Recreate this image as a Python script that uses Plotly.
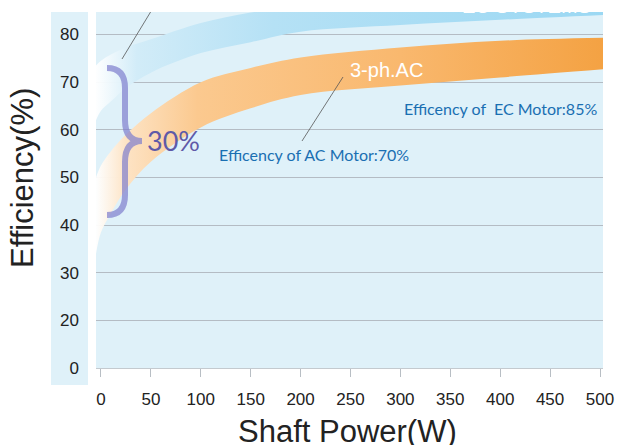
import plotly.graph_objects as go

# ---------------- data ----------------
power = [-5, 0, 10, 25, 50, 100, 150, 200, 300, 400, 503]
ec_low = [62.0, 64.0, 66.0, 68.8, 72.0, 76.1, 78.4, 80.6, 82.0, 83.1, 84.1]
ec_high = [73.5, 74.5, 75.8, 77.3, 79.0, 82.4, 84.6, 86.0, 88.0, 89.0, 90.0]
ac_low = [34.0, 38.5, 42.5, 47.5, 53.3, 60.5, 64.5, 67.3, 69.3, 71.0, 72.7]
ac_high = [50.0, 52.5, 55.5, 59.0, 63.5, 70.0, 73.0, 75.2, 77.3, 78.7, 79.3]

x_ticks = [0, 50, 100, 150, 200, 250, 300, 350, 400, 450, 500]
y_tickvals = [10, 20, 30, 40, 50, 60, 70, 80]
y_ticktext = ["0", "20", "30", "40", "50", "60", "70", "80"]

# ---------------- layout geometry ----------------
W, H = 617, 445
ML, MR, MT, MB = 96, 14, 12, 77
X0, X1 = -5, 503
Y0, Y1 = 10, 84.73
pw = W - ML - MR
ph = H - MT - MB

def px2x(px):
    return X0 + (px - ML) / pw * (X1 - X0)

def py2y(py):
    return Y1 - (py - MT) / ph * (Y1 - Y0)

def px2paper(px):
    return (px - ML) / pw

def py2paper(py):
    return (H - MB - py) / ph

fig = go.Figure()

# EC band
fig.add_trace(go.Scatter(x=power, y=ec_high, mode="lines", line=dict(width=0, shape="spline"),
                         hoverinfo="skip", showlegend=False))
fig.add_trace(go.Scatter(x=power, y=ec_low, mode="lines", line=dict(width=0, shape="spline"),
                         fill="tonexty",
                         fillgradient=dict(type="horizontal",
                                           colorscale=[[0, "rgba(255,255,255,0.95)"],
                                                       [0.08, "#d2ecf8"],
                                                       [0.35, "#b5e1f5"],
                                                       [1, "#9bd8f3"]]),
                         hoverinfo="skip", showlegend=False))
# AC band
fig.add_trace(go.Scatter(x=power, y=ac_high, mode="lines", line=dict(width=0, shape="spline"),
                         hoverinfo="skip", showlegend=False))
fig.add_trace(go.Scatter(x=power, y=ac_low, mode="lines", line=dict(width=0, shape="spline"),
                         fill="tonexty",
                         fillgradient=dict(type="horizontal",
                                           colorscale=[[0, "rgba(255,255,255,0.95)"],
                                                       [0.06, "#fde3c4"],
                                                       [0.2, "#fbc98f"],
                                                       [0.6, "#f9b86e"],
                                                       [1, "#f4a243"]]),
                         hoverinfo="skip", showlegend=False))

shapes = []
# light strip behind y tick labels
shapes.append(dict(type="rect", xref="paper", yref="paper",
                   x0=px2paper(51), x1=px2paper(88),
                   y0=py2paper(385), y1=1,
                   fillcolor="#dff1f9", line=dict(width=0), layer="below"))

# curly brace
bx = [px2x(v) for v in (107, 125, 142)]
by = {k: py2y(k) for k in (68, 88, 120, 141, 162, 195, 215)}
path = (f"M {bx[0]},{by[68]} Q {bx[1]},{by[68]} {bx[1]},{by[88]} "
        f"L {bx[1]},{by[120]} Q {bx[1]},{by[141]} {bx[2]},{by[141]} "
        f"Q {bx[1]},{by[141]} {bx[1]},{by[162]} "
        f"L {bx[1]},{by[195]} Q {bx[1]},{by[215]} {bx[0]},{by[215]}")
shapes.append(dict(type="path", xref="x", yref="y", path=path,
                   line=dict(color="rgba(125,125,205,0.7)", width=6)))

# leader lines
shapes.append(dict(type="line", xref="x", yref="y",
                   x0=px2x(122), y0=py2y(59), x1=px2x(153), y1=py2y(8),
                   line=dict(color="#555555", width=0.8)))
shapes.append(dict(type="line", xref="x", yref="y",
                   x0=px2x(343), y0=py2y(77), x1=px2x(302), y1=py2y(141),
                   line=dict(color="#555555", width=0.8)))

def ann(px, py, text, size, color, family="Liberation Sans, Arial", angle=0):
    return dict(x=px2paper(px), y=py2paper(py), xref="paper", yref="paper",
                xanchor="center", yanchor="middle", text=text, showarrow=False,
                textangle=angle, font=dict(family=family, size=size, color=color))

annotations = [
    ann(386, 70, "3-ph.AC", 20, "white"),
    ann(500, 108, "Efficency of  EC Motor:85%", 16, "#1a6fb2", "Lato"),
    ann(314, 154, "Efficency of AC Motor:70%", 16, "#1a6fb2", "Lato"),
    ann(173, 140, "30%", 27, "#5f5aa8", "Lato"),
    ann(526, 6, "EC SYSTEMS", 20, "white"),
    ann(347, 431, "Shaft Power(W)", 31, "#222222"),
    ann(22, 178, "Efficiency(%)", 31, "#222222", angle=-90),
]

fig.update_layout(
    width=W, height=H,
    margin=dict(l=ML, r=MR, t=MT, b=MB, autoexpand=False),
    paper_bgcolor="white",
    plot_bgcolor="#dff1f9",
    shapes=shapes,
    annotations=annotations,
    showlegend=False,
    xaxis=dict(range=[X0, X1], tickvals=x_ticks, ticks="outside", ticklen=8,
               tickcolor="#b8bec4", tickwidth=1, showgrid=False, zeroline=False,
               showline=True, linecolor="#c4cacf", linewidth=1, automargin=False,
               ticklabelstandoff=8,
               tickfont=dict(family="Liberation Sans, Arial", size=17, color="#222222")),
    yaxis=dict(range=[Y0, Y1], tickvals=y_tickvals, ticktext=y_ticktext,
               showgrid=True, gridcolor="#b4bcc4", gridwidth=1, zeroline=False,
               showline=False, ticks="", ticklabelstandoff=16, automargin=False,
               tickfont=dict(family="Liberation Sans, Arial", size=17, color="#222222")),
)

fig.write_html("out.html", config={"displayModeBar": False},
               post_script="document.body.style.margin='0';document.body.style.overflow='hidden';")
